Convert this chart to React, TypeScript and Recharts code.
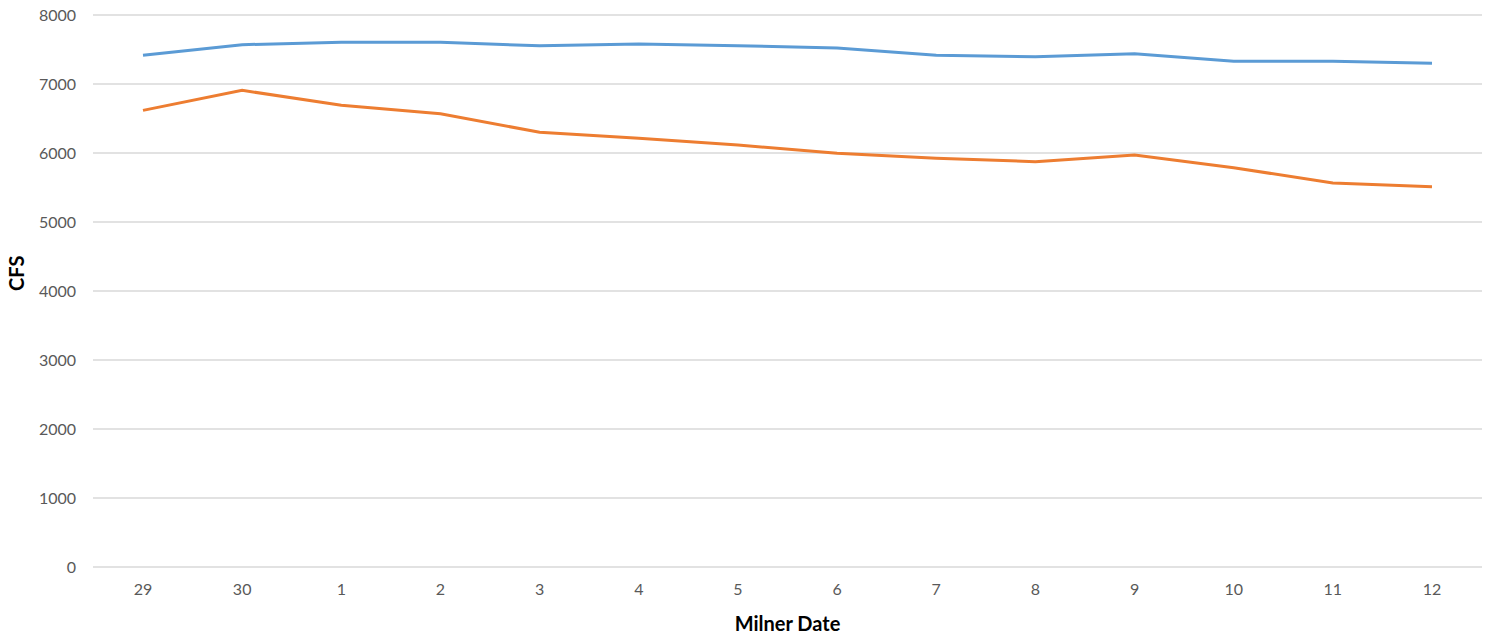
import React from 'react';
import { LineChart, Line, XAxis, YAxis, CartesianGrid } from 'recharts';

const dates = ['29', '30', '1', '2', '3', '4', '5', '6', '7', '8', '9', '10', '11', '12'];
const seriesA = [7416, 7570, 7604, 7604, 7555, 7580, 7555, 7522, 7416, 7396, 7439, 7329, 7329, 7300];
const seriesB = [6618, 6908, 6691, 6570, 6300, 6212, 6116, 5995, 5923, 5874, 5971, 5787, 5565, 5512];
const yTicks = [0, 1000, 2000, 3000, 4000, 5000, 6000, 7000, 8000];

const data = dates.map((d, i) => ({ date: d, a: seriesA[i], b: seriesB[i] }));

const font = 'Lato, "Open Sans", sans-serif';

export default function App() {
  return (
    <div style={{ position: 'fixed', left: 0, top: 0, width: 1499, height: 638, background: '#fff' }}>
      <LineChart width={1499} height={638} data={data} margin={{ top: 15, right: 17, bottom: 0, left: 8 }}>
        <CartesianGrid vertical={false} stroke="#d9d9d9" strokeWidth={1.5} />
        <XAxis
          dataKey="date"
          axisLine={false}
          tickLine={false}
          height={71}
          tickMargin={11}
          padding={{ left: 50, right: 50 }}
          tick={{ fill: '#595959', fontSize: 16, fontFamily: font }}
          label={{ value: 'Milner Date', position: 'insideBottom', offset: 7, fill: '#000', fontSize: 20, fontWeight: 'bold', fontFamily: font }}
        />
        <YAxis
          domain={[0, 8000]}
          ticks={yTicks}
          axisLine={false}
          tickLine={false}
          width={85}
          tickMargin={11}
          interval={0}
          tick={{ fill: '#595959', fontSize: 16, fontFamily: font }}
          label={{ value: 'CFS', angle: -90, position: 'insideLeft', offset: 9, fill: '#000', fontSize: 20, fontWeight: 'bold', fontFamily: font }}
        />
        <Line type="linear" dataKey="a" stroke="#5b9bd5" strokeWidth={3} dot={false} isAnimationActive={false} />
        <Line type="linear" dataKey="b" stroke="#ed7d31" strokeWidth={3} dot={false} isAnimationActive={false} />
      </LineChart>
    </div>
  );
}
